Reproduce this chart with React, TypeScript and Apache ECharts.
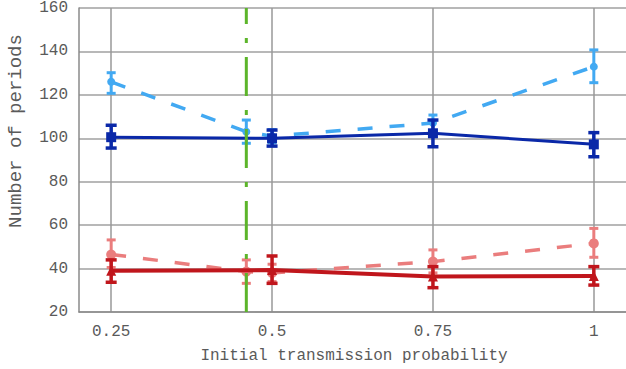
import React, { useEffect, useRef } from 'react';
import * as echarts from 'echarts';

const xTickValues = [0.25, 0.5, 0.75, 1];
const xTickLabels = ['0.25', '0.5', '0.75', '1'];
const xName = 'Initial transmission probability';
const yName = 'Number of periods';

const darkX = [0.25, 0.5, 0.75, 1];
const darkMean = [100.5, 100, 102.3, 97.2];
const darkLow = [95.5, 96.4, 96.1, 91.5];
const darkHigh = [106, 103.8, 108.4, 102.6];

const lightX = [0.25, 0.46, 0.5, 0.75, 1];
const lightMean = [126, 103, 101, 107, 133];
const lightLow = [120.7, 97.7, 98, 103.3, 125.6];
const lightHigh = [130.2, 108.4, 104, 110.7, 140.7];

const redX = [0.25, 0.5, 0.75, 1];
const redMean = [39, 39.3, 36.3, 36.6];
const redLow = [33.7, 33.2, 31.2, 32.4];
const redHigh = [44, 45.8, 40.9, 40.9];

const pinkX = [0.25, 0.46, 0.5, 0.75, 1];
const pinkMean = [46.5, 38.6, 38, 43.2, 51.6];
const pinkLow = [40.5, 33.2, 34, 38, 45.2];
const pinkHigh = [53.2, 44, 42, 48.6, 58.5];

const thresholdX = 0.46;
const yMin = 20;
const yMax = 160;

const FONT = '"Liberation Mono", "DejaVu Sans Mono", monospace';

function errorSeries(xs: number[], lows: number[], highs: number[], color: string, capW: number, lw: number, z: number) {
  return {
    type: 'custom',
    z,
    clip: false,
    data: xs.map((x, i) => [x, lows[i], highs[i]]),
    encode: { x: 0, y: [1, 2] },
    renderItem: (params: any, api: any) => {
      const x = api.value(0);
      const lo = api.coord([x, api.value(1)]);
      const hi = api.coord([x, api.value(2)]);
      const h = capW / 2;
      const style = { stroke: color, lineWidth: lw, fill: 'none' };
      return {
        type: 'group',
        children: [
          { type: 'line', shape: { x1: lo[0], y1: lo[1], x2: hi[0], y2: hi[1] }, style },
          { type: 'line', shape: { x1: lo[0] - h, y1: lo[1], x2: lo[0] + h, y2: lo[1] }, style },
          { type: 'line', shape: { x1: hi[0] - h, y1: hi[1], x2: hi[0] + h, y2: hi[1] }, style },
        ],
      };
    },
  };
}

function lineSeries(xs: number[], ys: number[], color: string, symbol: string, symbolSize: number, width: number, dashed: boolean, z: number) {
  return {
    type: 'line',
    z,
    data: xs.map((x, i) => [x, ys[i]]),
    symbol,
    symbolSize,
    showSymbol: true,
    itemStyle: { color, borderWidth: 0 },
    lineStyle: { color, width, type: dashed ? [15, 17] : 'solid' },
    emphasis: { disabled: true },
  };
}

export default function App() {
  const ref = useRef<HTMLDivElement>(null);
  useEffect(() => {
    if (!ref.current) return;
    const chart = echarts.init(ref.current, undefined, { renderer: 'svg' });
    const darkBlue = '#0a28a8';
    const lightBlue = '#42a9f2';
    const red = '#c0161c';
    const pink = '#ea7d7d';
    const green = '#5cb52a';
    chart.setOption({
      animation: false,
      grid: { left: 79, top: 8, bottom: 57, right: -2, containLabel: false },
      xAxis: {
        type: 'value',
        min: 0.2,
        max: 1.05,
        axisLine: { show: true, lineStyle: { color: '#8a8a8a', width: 1.5 } },
        axisTick: { show: false, customValues: xTickValues },
        axisLabel: {
          customValues: xTickValues,
          formatter: (v: number) => xTickLabels[xTickValues.indexOf(v)] ?? String(v),
          fontFamily: FONT,
          fontSize: 16,
          color: '#5a5a5a',
          margin: 12,
        },
        splitLine: { show: true, lineStyle: { color: '#999', width: 1.5 } },
      },
      yAxis: {
        type: 'value',
        min: yMin,
        max: yMax,
        interval: 20,
        axisLine: { show: true, lineStyle: { color: '#8a8a8a', width: 1.5 } },
        axisTick: { show: false },
        axisLabel: { fontFamily: FONT, fontSize: 16, color: '#5a5a5a', margin: 11 },
        splitLine: { show: true, lineStyle: { color: '#a0a0a0', width: 1.5 } },
      },
      graphic: [
        {
          type: 'text',
          x: 16,
          y: 131,
          rotation: Math.PI / 2,
          style: { text: yName, font: '19px ' + FONT, fill: '#5a5a5a', textAlign: 'center', textVerticalAlign: 'middle' },
        },
        {
          type: 'text',
          x: 354,
          y: 356,
          style: { text: xName, font: '16px ' + FONT, fill: '#5a5a5a', textAlign: 'center', textVerticalAlign: 'middle' },
        },
      ],
      series: [
        lineSeries(lightX, lightMean, lightBlue, 'circle', 8, 3.5, true, 2),
        errorSeries(lightX, lightLow, lightHigh, lightBlue, 9, 3, 2),
        lineSeries(pinkX, pinkMean, pink, 'circle', 10, 3.5, true, 2),
        errorSeries(pinkX, pinkLow, pinkHigh, pink, 9, 3, 2),
        lineSeries(darkX, darkMean, darkBlue, 'rect', 10, 3, false, 3),
        errorSeries(darkX, darkLow, darkHigh, darkBlue, 11, 3.5, 3),
        lineSeries(redX, redMean, red, 'triangle', 10, 4, false, 3),
        errorSeries(redX, redLow, redHigh, red, 11, 3.5, 3),
        {
          type: 'line',
          z: 10,
          data: [[thresholdX, yMin], [thresholdX, yMax]],
          symbol: 'none',
          lineStyle: { color: green, width: 3, type: [39, 14, 5, 14] },
          emphasis: { disabled: true },
        },
      ],
    });
    return () => chart.dispose();
  }, []);
  return <div ref={ref} style={{ position: 'absolute', left: 0, top: 0, width: 626, height: 369 }} />;
}
